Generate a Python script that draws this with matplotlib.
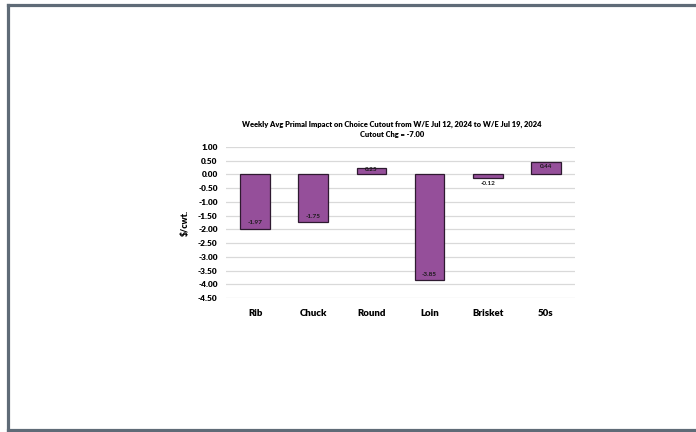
import matplotlib
matplotlib.use("Agg")
import matplotlib.pyplot as plt

# Weekly primal contributions to the Choice cutout change ($/cwt.)
primals = ["Rib", "Chuck", "Round", "Loin", "Brisket", "50s"]
impact = [-1.97, -1.75, 0.25, -3.85, -0.12, 0.44]
cutout_chg = -7.00
y_ticks = [1.00, 0.50, 0.00, -0.50, -1.00, -1.50, -2.00, -2.50,
           -3.00, -3.50, -4.00, -4.50]

FONT = ["Lato", "DejaVu Sans"]
plt.rcParams["font.family"] = FONT

fig = plt.figure(figsize=(6.96, 4.32), dpi=100)
fig.patch.set_facecolor("white")

# Outer slate frame (open on the right side)
frame_color = "#5F6B77"
fig.add_artist(plt.Line2D([7.5 / 696, 7.5 / 696], [2 / 432, 427 / 432],
                          transform=fig.transFigure, color=frame_color, lw=2.3))
fig.add_artist(plt.Line2D([7.5 / 696, 1.0], [427 / 432, 427 / 432],
                          transform=fig.transFigure, color=frame_color, lw=2.3))
fig.add_artist(plt.Line2D([7.5 / 696, 1.0], [2 / 432, 2 / 432],
                          transform=fig.transFigure, color=frame_color, lw=2.3))

ax = fig.add_axes([226 / 696, 1 - 298 / 432, 349 / 696, 151 / 432])
x = list(range(len(primals)))
bars = ax.bar(x, impact, width=0.51, color="#954F9A", edgecolor="#2E1A30",
              linewidth=0.9, zorder=3)

ax.set_ylim(-4.5, 1.0)
ax.set_xlim(-0.5, len(primals) - 0.5)
ax.set_yticks(y_ticks)
ax.set_yticklabels([f"{t:.2f}" for t in y_ticks])
ax.set_xticks(x)
ax.set_xticklabels(primals)
ax.grid(axis="y", color="#D9D9D9", linewidth=0.9, zorder=0)
for side in ax.spines.values():
    side.set_visible(False)
ax.tick_params(axis="both", length=0)
ax.tick_params(axis="y", labelsize=6.0, pad=6)
ax.tick_params(axis="x", labelsize=6.9, pad=8)
for lab in ax.get_yticklabels() + ax.get_xticklabels():
    lab.set_fontweight("heavy")

ax.set_ylabel("$/cwt.", fontsize=6.3, fontweight="heavy", labelpad=6)

# Value labels near the bar ends
for xi, v in zip(x, impact):
    mag = abs(v)
    if mag < 0.2:
        off = -5.5 if v < 0 else 5.5
    elif mag < 0.35:
        off = -1.5 if v > 0 else 1.5
    else:
        off = -4.5 if v > 0 else 6
    ax.annotate(f"{v:.2f}", xy=(xi, v), xytext=(0, off * 0.72),
                textcoords="offset points", ha="center", va="center",
                fontsize=4.6, fontweight="bold", color="#1A1A1A", zorder=4)

fig.text(392 / 696, 1 - 124 / 432,
         "Weekly Avg Primal Impact on Choice Cutout from W/E Jul 12, 2024 to W/E Jul 19, 2024",
         ha="center", va="center", fontsize=5.45, fontweight="heavy")
fig.text(392 / 696, 1 - 134 / 432, f"Cutout Chg = {cutout_chg:.2f}",
         ha="center", va="center", fontsize=5.45, fontweight="heavy")

fig.savefig("out.png", dpi=100, facecolor="white")
